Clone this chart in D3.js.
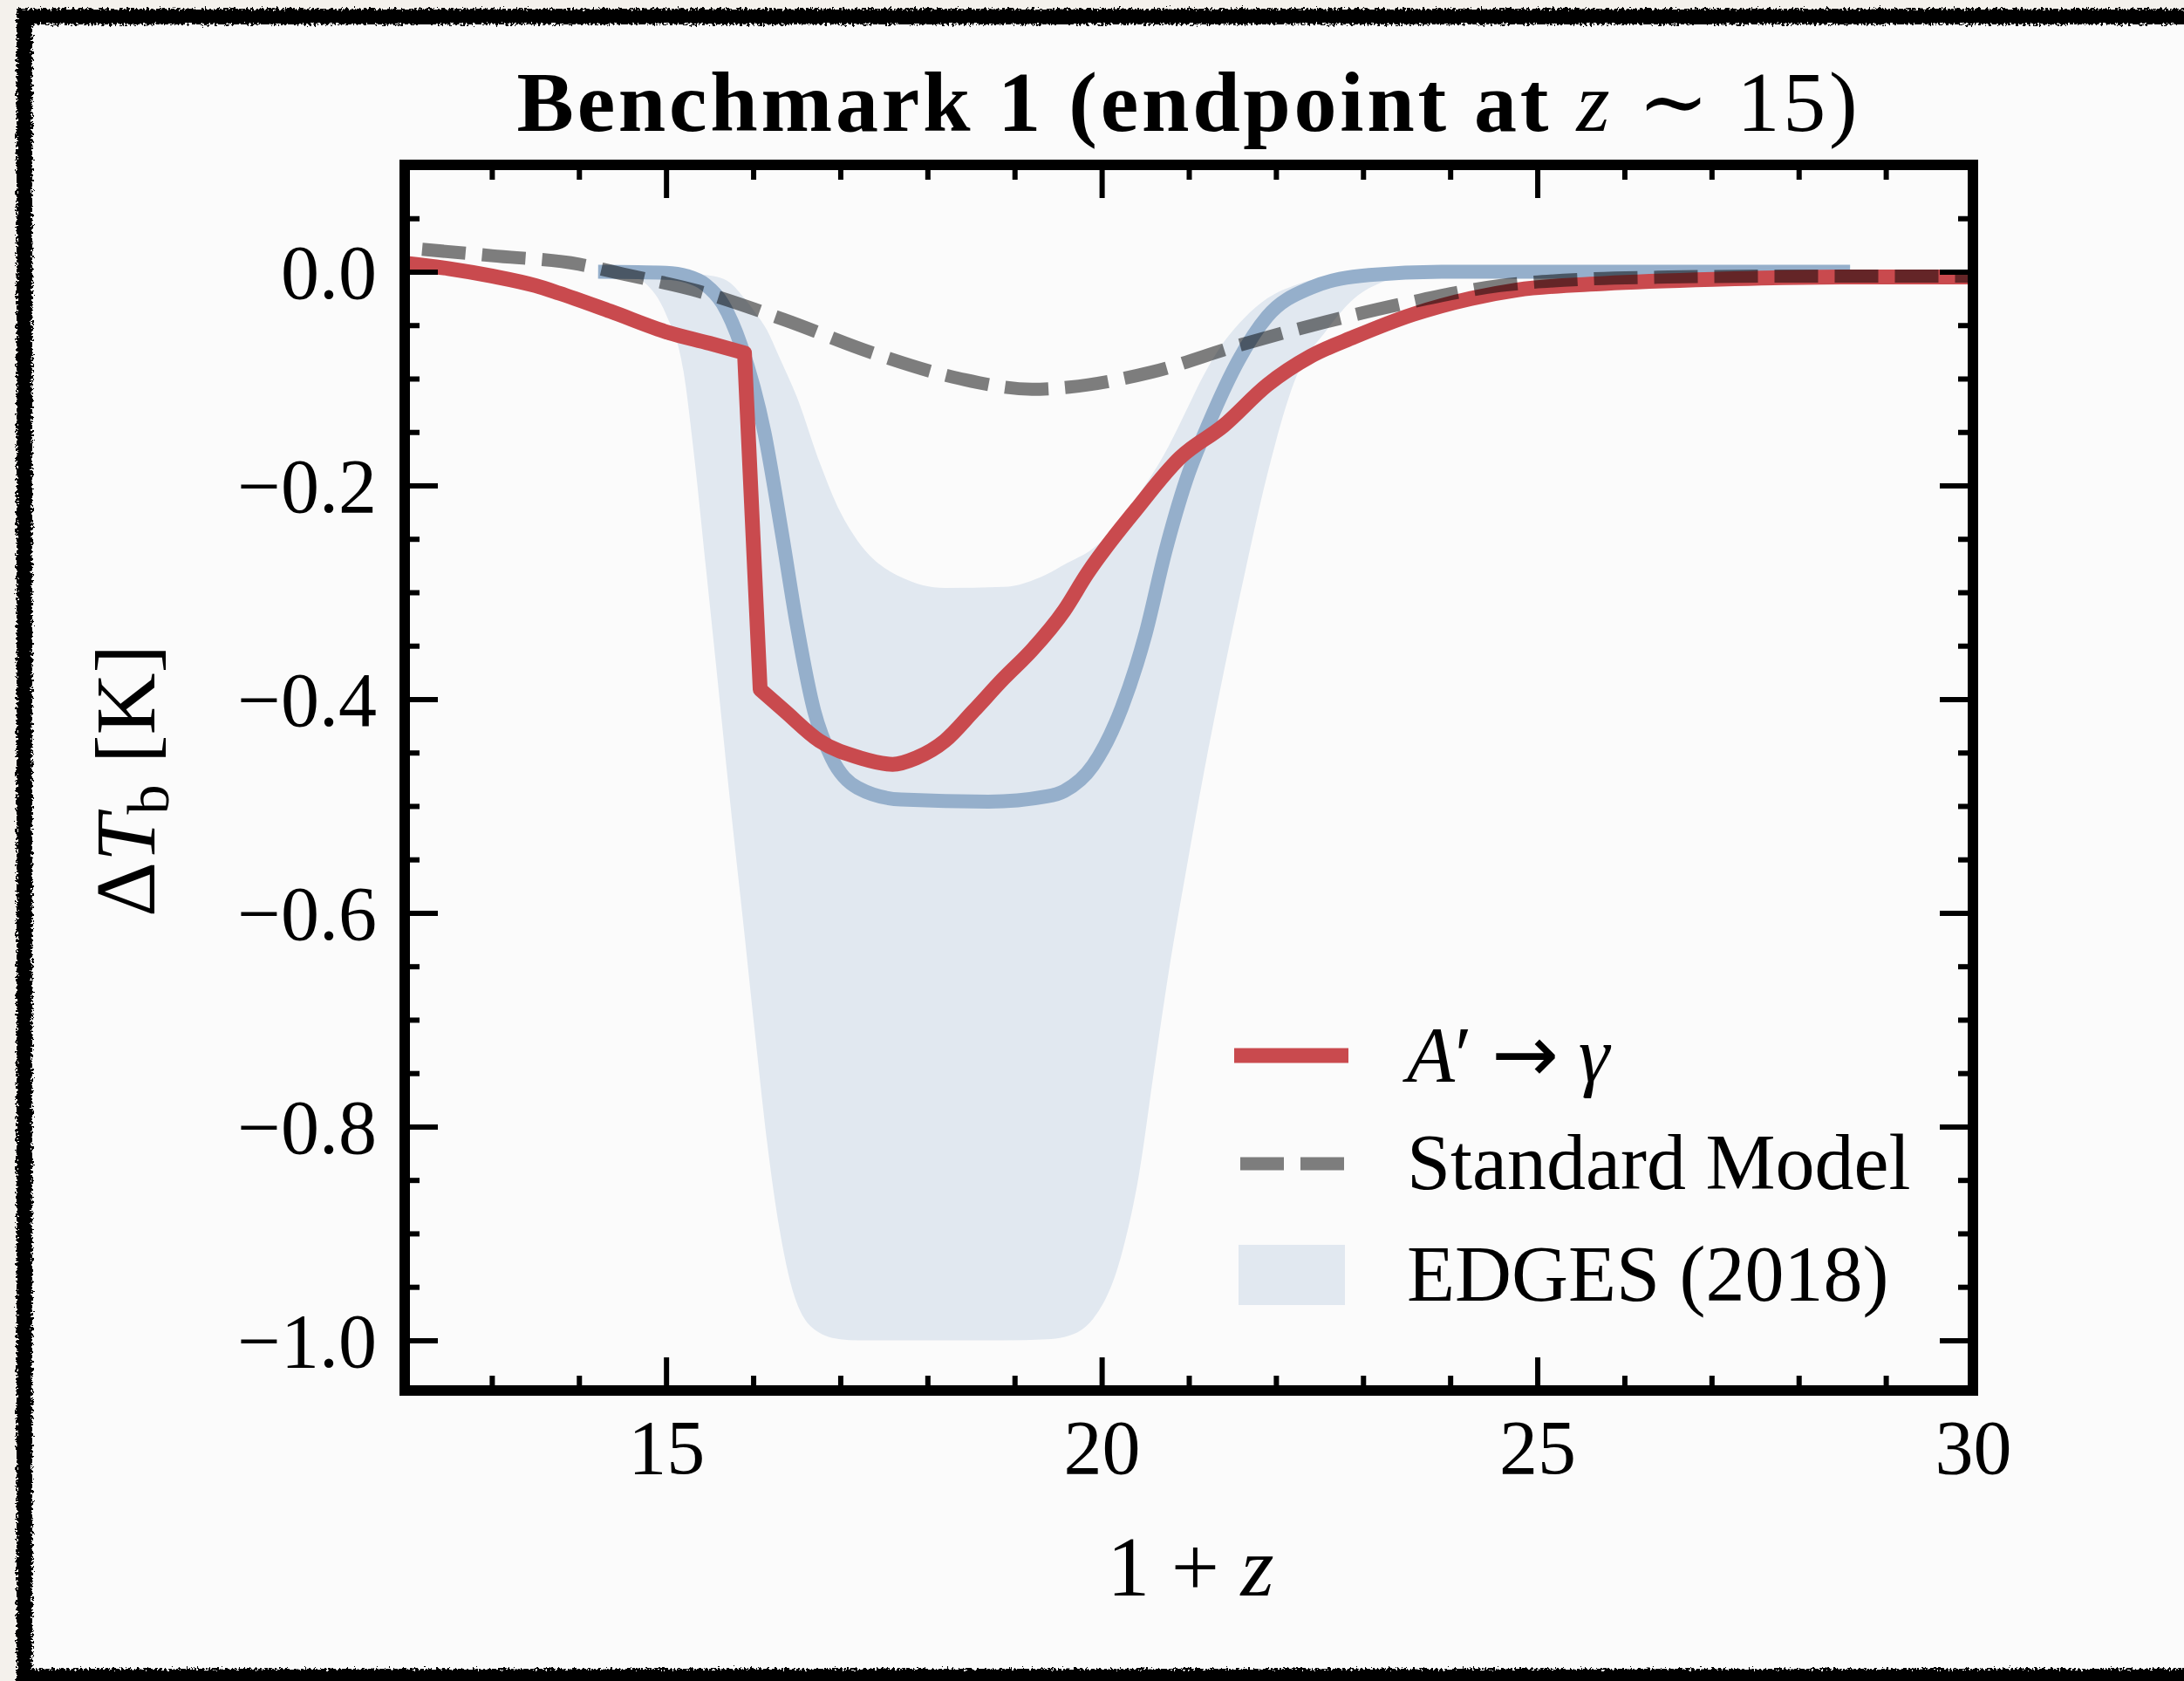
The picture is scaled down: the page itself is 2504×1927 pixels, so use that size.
<!DOCTYPE html>
<html>
<head>
<meta charset="utf-8">
<script src="https://cdn.jsdelivr.net/npm/d3@7"></script>
<style>
html, body { margin: 0; padding: 0; background: #f4f1ec; }
svg { display: block; }
text { font-family: "Liberation Serif", "DejaVu Serif", "Times New Roman", serif; fill: #000; }
</style>
</head>
<body>
<svg id="chart" width="2504" height="1927"></svg>
<script>
// ---------------- data ----------------
const redZ = [12.0, 12.5, 13.0, 13.5, 13.77, 14.36, 15.03, 15.5, 15.90, 16.08, 16.36, 16.76, 17.23, 17.60, 17.87, 18.20, 18.53, 18.87, 19.20, 19.57, 19.83, 20.40, 20.90, 21.40, 21.90, 22.40, 22.90, 23.57, 24.24, 24.77, 25.77, 27.1, 28.5, 30.0];
const redT = [0.008, 0.003, -0.004, -0.013, -0.020, -0.037, -0.057, -0.067, -0.076, -0.391, -0.411, -0.439, -0.455, -0.461, -0.455, -0.439, -0.411, -0.381, -0.354, -0.317, -0.283, -0.222, -0.174, -0.144, -0.106, -0.079, -0.061, -0.040, -0.025, -0.017, -0.011, -0.007, -0.005, -0.005];

const smZ = [12.2, 13.0, 14.0, 14.5, 15.36, 16.36, 17.37, 18.37, 19.2, 19.63, 20.57, 21.57, 22.57, 23.57, 24.57, 25.3, 26.5, 28.0, 30.0];
const smT = [0.021, 0.015, 0.007, -0.002, -0.018, -0.045, -0.076, -0.100, -0.110, -0.108, -0.094, -0.069, -0.047, -0.028, -0.013, -0.008, -0.005, -0.004, -0.004];

const blueZ = [14.22, 15.0, 15.24, 15.45, 15.65, 15.86, 16.13, 16.33, 16.50, 16.70, 16.90, 17.2, 17.7, 18.7, 19.37, 19.57, 19.90, 20.23, 20.50, 20.73, 20.97, 21.24, 21.57, 21.90, 22.40, 23.07, 23.9, 26.0, 28.59];
const blueT = [0.0, -0.001, -0.004, -0.012, -0.030, -0.069, -0.151, -0.245, -0.330, -0.411, -0.455, -0.483, -0.494, -0.496, -0.491, -0.486, -0.462, -0.408, -0.340, -0.262, -0.195, -0.140, -0.083, -0.042, -0.015, -0.003, 0.0, 0.0, 0.0];

const bandZ  = [14.22, 14.5, 14.75, 15.0, 15.2, 15.33, 15.46, 15.59, 15.73, 15.9, 16.03, 16.16, 16.3, 16.5, 16.76, 17.0, 17.2, 17.7, 18.2, 18.87, 19.37, 19.57, 19.9, 20.23, 20.43, 20.6, 20.77, 20.97, 21.17, 21.4, 21.64, 21.9, 22.24, 22.57, 22.9, 23.24, 23.6, 23.9];
const bandLo = [0.0, -0.001, -0.010, -0.040, -0.093, -0.178, -0.279, -0.381, -0.492, -0.620, -0.720, -0.815, -0.895, -0.965, -0.993, -0.999, -1.0, -1.0, -1.0, -1.0, -0.999, -0.997, -0.980, -0.919, -0.844, -0.748, -0.655, -0.560, -0.470, -0.375, -0.283, -0.190, -0.097, -0.056, -0.025, -0.009, -0.002, 0.0];
const bandHi = [0.0, 0.0, 0.0, 0.0, -0.001, -0.002, -0.003, -0.005, -0.010, -0.025, -0.039, -0.055, -0.080, -0.117, -0.178, -0.225, -0.252, -0.286, -0.296, -0.295, -0.283, -0.274, -0.259, -0.232, -0.208, -0.187, -0.163, -0.130, -0.097, -0.066, -0.043, -0.025, -0.012, -0.005, -0.002, 0.0, 0.0, 0.0];

const xTickValues = [15, 20, 25, 30];
const xTickLabels = ["15", "20", "25", "30"];
const yTickValues = [0.0, -0.2, -0.4, -0.6, -0.8, -1.0];
const yTickLabels = ["0.0", "\u22120.2", "\u22120.4", "\u22120.6", "\u22120.8", "\u22121.0"];
const legendLabels = ["A\u2032 \u2192 \u03b3", "Standard Model", "EDGES (2018)"];

// ---------------- layout ----------------
const W = 2504, H = 1927;
const L = 464, R = 2262, T = 189, B = 1594;
const C = { red: "#c94a4e", blue: "#95afcb", band: "#e1e8f0", dash: "rgba(0,0,0,0.5)" };

const svg = d3.select("#chart");
const defs = svg.append("defs");

// rough paper-edge filter
const f = defs.append("filter").attr("id", "rough")
  .attr("x", "-2%").attr("y", "-2%").attr("width", "104%").attr("height", "104%");
f.append("feTurbulence").attr("type", "fractalNoise").attr("baseFrequency", "0.35")
  .attr("numOctaves", 2).attr("seed", 7).attr("result", "n");
f.append("feDisplacementMap").attr("in", "SourceGraphic").attr("in2", "n")
  .attr("scale", 10).attr("xChannelSelector", "R").attr("yChannelSelector", "G");

defs.append("clipPath").attr("id", "plotclip")
  .append("rect").attr("x", L).attr("y", T).attr("width", R - L).attr("height", B - T);

// background paper
svg.append("rect").attr("x", 0).attr("y", 0).attr("width", W).attr("height", H).attr("fill", "#f4f1ec");
svg.append("rect").attr("x", 28).attr("y", 19).attr("width", 2560).attr("height", 1903).attr("fill", "#fbfbfb");
svg.append("rect").attr("x", 28).attr("y", 19).attr("width", 2560).attr("height", 1903)
  .attr("fill", "none").attr("stroke", "#000").attr("stroke-width", 18).attr("filter", "url(#rough)");

// scales
const x = d3.scaleLinear().domain([12, 30]).range([L, R]);
const y = d3.scaleLinear().domain([-1.047, 0.1]).range([B, T]);

const plot = svg.append("g").attr("clip-path", "url(#plotclip)");

// EDGES band
const bandData = bandZ.map((z, i) => ({ z, lo: bandLo[i], hi: bandHi[i] }));
plot.append("path").datum(bandData)
  .attr("fill", C.band)
  .attr("d", d3.area().curve(d3.curveMonotoneX)
    .x(d => x(d.z)).y0(d => y(d.lo)).y1(d => y(d.hi)));

// EDGES best-fit line
const blueData = blueZ.map((z, i) => ({ z, t: blueT[i] }));
plot.append("path").datum(blueData)
  .attr("fill", "none").attr("stroke", C.blue).attr("stroke-width", 16)
  .attr("stroke-linejoin", "round")
  .attr("d", d3.line().curve(d3.curveMonotoneX).x(d => x(d.z)).y(d => y(d.t)));

// A' -> gamma : smooth pieces joined by the sharp drop
const redData = redZ.map((z, i) => ({ z, t: redT[i] }));
const redLineSmooth = d3.line().curve(d3.curveMonotoneX).x(d => x(d.z)).y(d => y(d.t));
const redLineSharp = d3.line().curve(d3.curveLinear).x(d => x(d.z)).y(d => y(d.t));
const dropIdx = 8;
const redPath = redLineSmooth(redData.slice(0, dropIdx + 1)) +
  redLineSharp(redData.slice(dropIdx, dropIdx + 2)).replace(/^M[^L]*/, "") +
  redLineSmooth(redData.slice(dropIdx + 1)).replace(/^M[^CL]*/, "");
plot.append("path")
  .attr("fill", "none").attr("stroke", C.red).attr("stroke-width", 17)
  .attr("stroke-linejoin", "round")
  .attr("d", redPath);

// Standard model
const smData = smZ.map((z, i) => ({ z, t: smT[i] }));
plot.append("path").datum(smData)
  .attr("fill", "none").attr("stroke", C.dash).attr("stroke-width", 15)
  .attr("stroke-dasharray", "50,19")
  .attr("d", d3.line().curve(d3.curveMonotoneX).x(d => x(d.z)).y(d => y(d.t)));

// ---------------- axes ----------------
const majorLen = 38, minorLen = 17;
const xMinor = d3.range(12, 31).filter(v => v % 5 !== 0 && v > 12 && v < 30);
const yMinor = d3.range(-20, 2).filter(i => i % 4 !== 0).map(i => i * 0.05);

function styleAxis(g, fs) {
  g.select(".domain").remove();
  g.selectAll(".tick line").attr("stroke", "#000").attr("stroke-width", 6);
  g.selectAll(".tick text").style("font-size", fs + "px").attr("fill", "#000");
}

// bottom
const gxb = svg.append("g").attr("transform", `translate(0,${B})`)
  .call(d3.axisBottom(x).tickValues(xTickValues).tickSize(-majorLen).tickPadding(33)
    .tickFormat((d, i) => xTickLabels[i]));
styleAxis(gxb, 88);
gxb.selectAll(".tick text").attr("dy", "0.71em").attr("y", 33);
const gxbm = svg.append("g").attr("transform", `translate(0,${B})`)
  .call(d3.axisBottom(x).tickValues(xMinor).tickSize(-minorLen).tickFormat(""));
styleAxis(gxbm, 10);
// top
const gxt = svg.append("g").attr("transform", `translate(0,${T})`)
  .call(d3.axisTop(x).tickValues(xTickValues).tickSize(-majorLen).tickFormat(""));
styleAxis(gxt, 10);
const gxtm = svg.append("g").attr("transform", `translate(0,${T})`)
  .call(d3.axisTop(x).tickValues(xMinor).tickSize(-minorLen).tickFormat(""));
styleAxis(gxtm, 10);
// left
const gyl = svg.append("g").attr("transform", `translate(${L},0)`)
  .call(d3.axisLeft(y).tickValues(yTickValues).tickSize(-majorLen).tickPadding(32)
    .tickFormat((d, i) => yTickLabels[i]));
styleAxis(gyl, 88);
gyl.selectAll(".tick text").attr("dy", "0.34em");
const gylm = svg.append("g").attr("transform", `translate(${L},0)`)
  .call(d3.axisLeft(y).tickValues(yMinor).tickSize(-minorLen).tickFormat(""));
styleAxis(gylm, 10);
// right
const gyr = svg.append("g").attr("transform", `translate(${R},0)`)
  .call(d3.axisRight(y).tickValues(yTickValues).tickSize(-majorLen).tickFormat(""));
styleAxis(gyr, 10);
const gyrm = svg.append("g").attr("transform", `translate(${R},0)`)
  .call(d3.axisRight(y).tickValues(yMinor).tickSize(-minorLen).tickFormat(""));
styleAxis(gyrm, 10);

// frame
svg.append("rect").attr("x", L).attr("y", T).attr("width", R - L).attr("height", B - T)
  .attr("fill", "none").attr("stroke", "#000").attr("stroke-width", 12);

// ---------------- title & labels ----------------
const title = svg.append("text").attr("x", (L + R) / 2).attr("y", 150)
  .attr("text-anchor", "middle").style("font-size", "98px").style("white-space", "pre");
title.append("tspan").style("font-weight", "bold").text("Benchmark 1 (endpoint at ");
title.append("tspan").style("font-style", "italic").text("z");
title.append("tspan").text(" \u223c 15)");
const tw = title.node().getComputedTextLength();
const nch = "Benchmark 1 (endpoint at z \u223c 15)".length;
title.style("letter-spacing", ((1541 - tw) / nch).toFixed(2) + "px");

const xl = svg.append("text").attr("x", 1365).attr("y", 1829)
  .attr("text-anchor", "middle").style("font-size", "98px").style("white-space", "pre");
xl.append("tspan").text("1 + ");
xl.append("tspan").style("font-style", "italic").text("z");

const yl = svg.append("text").attr("transform", "translate(177,895) rotate(-90)")
  .attr("text-anchor", "middle").style("font-size", "98px").style("white-space", "pre");
yl.append("tspan").text("\u0394");
yl.append("tspan").style("font-style", "italic").text("T");
yl.append("tspan").attr("dy", 16).style("font-size", "68px").text("b");
yl.append("tspan").attr("dy", -16).text(" [K]");

// ---------------- legend ----------------
const lg = svg.append("g");
lg.append("line").attr("x1", 1415).attr("x2", 1546).attr("y1", 1210).attr("y2", 1210)
  .attr("stroke", C.red).attr("stroke-width", 17);
lg.append("line").attr("x1", 1422).attr("x2", 1541).attr("y1", 1334).attr("y2", 1334)
  .attr("stroke", C.dash).attr("stroke-width", 15).attr("stroke-dasharray", "50,19");
lg.append("rect").attr("x", 1420).attr("y", 1427).attr("width", 122).attr("height", 69)
  .attr("fill", C.band);

const l1 = lg.append("text").attr("x", 1613).attr("y", 1240).style("font-size", "90px").style("white-space", "pre");
l1.append("tspan").style("font-style", "italic").text("A");
l1.append("tspan").text("\u2032 ");
l1.append("tspan").style("font-family", "'DejaVu Sans'").style("font-size", "92px").text("\u2192");
l1.append("tspan").text(" ");
l1.append("tspan").style("font-style", "italic").text("\u03b3");
lg.append("text").attr("x", 1613).attr("y", 1363).style("font-size", "90px").text(legendLabels[1]);
lg.append("text").attr("x", 1613).attr("y", 1491).style("font-size", "90px").text(legendLabels[2]);
</script>
</body>
</html>
